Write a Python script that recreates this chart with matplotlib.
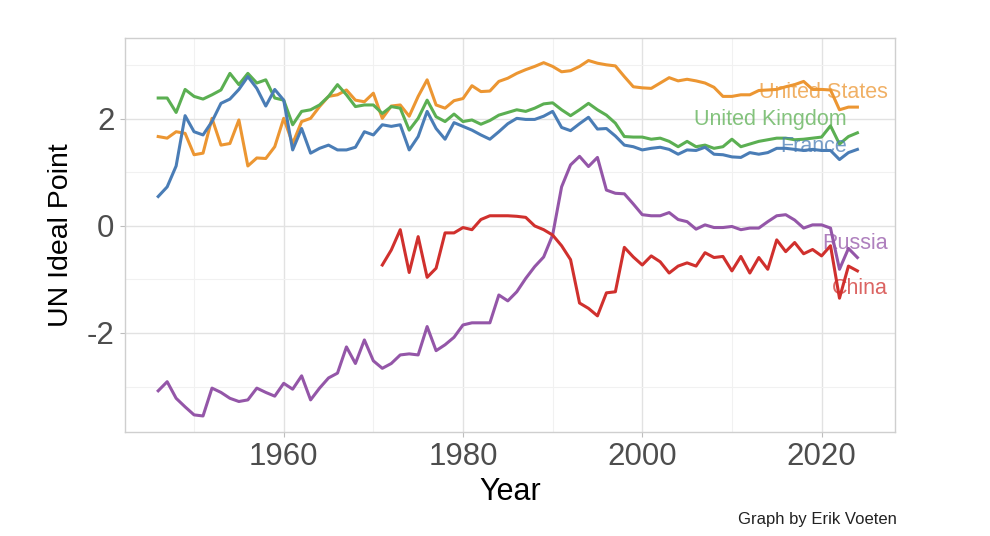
import matplotlib
matplotlib.use("Agg")

import matplotlib.pyplot as plt
import numpy as np

# ------------------------------------------------------------
# DATA
# ------------------------------------------------------------
years = list(range(1946, 2025))
china_years = list(range(1971, 2025))

united_states = [
    1.67, 1.64, 1.76, 1.73, 1.33, 1.36, 2.01, 1.51, 1.54, 1.98,
    1.12, 1.27, 1.26, 1.48, 2.01, 1.54, 1.95, 2.01, 2.23, 2.42,
    2.45, 2.54, 2.35, 2.32, 2.48, 2.01, 2.24, 2.26, 2.05, 2.42,
    2.73, 2.26, 2.20, 2.34, 2.38, 2.62, 2.51, 2.52, 2.70, 2.76,
    2.85, 2.92, 2.98, 3.05, 2.98, 2.88, 2.90, 2.98, 3.09, 3.04,
    3.01, 2.99, 2.79, 2.60, 2.58, 2.57, 2.67, 2.77, 2.71, 2.74,
    2.71, 2.67, 2.59, 2.42, 2.42, 2.45, 2.45, 2.53, 2.54, 2.55,
    2.60, 2.64, 2.70, 2.55, 2.55, 2.54, 2.17, 2.22, 2.22,
]
united_kingdom = [
    2.39, 2.39, 2.12, 2.55, 2.42, 2.37, 2.45, 2.54, 2.85, 2.64,
    2.85, 2.67, 2.73, 2.39, 2.35, 1.89, 2.14, 2.17, 2.26, 2.42,
    2.64, 2.45, 2.23, 2.26, 2.26, 2.10, 2.23, 2.20, 1.79, 2.01,
    2.35, 2.04, 1.95, 2.09, 1.95, 1.98, 1.90, 1.97, 2.07, 2.12,
    2.17, 2.14, 2.20, 2.28, 2.30, 2.17, 2.06, 2.17, 2.29, 2.17,
    2.07, 1.92, 1.67, 1.66, 1.66, 1.62, 1.64, 1.58, 1.48, 1.58,
    1.48, 1.51, 1.45, 1.48, 1.62, 1.48, 1.53, 1.58, 1.61, 1.64,
    1.64, 1.61, 1.62, 1.64, 1.66, 1.87, 1.53, 1.67, 1.74,
]
france = [
    0.55, 0.73, 1.12, 2.06, 1.76, 1.70, 1.95, 2.29, 2.37, 2.55,
    2.79, 2.57, 2.24, 2.55, 2.35, 1.42, 1.82, 1.36, 1.45, 1.51,
    1.42, 1.42, 1.47, 1.76, 1.70, 1.89, 1.86, 1.89, 1.42, 1.67,
    2.14, 1.82, 1.62, 1.93, 1.86, 1.79, 1.70, 1.62, 1.76, 1.91,
    2.01, 1.99, 1.99, 2.05, 2.14, 1.84, 1.78, 1.91, 2.03, 1.81,
    1.82, 1.68, 1.51, 1.48, 1.42, 1.45, 1.47, 1.43, 1.34, 1.42,
    1.41, 1.47, 1.34, 1.33, 1.29, 1.28, 1.37, 1.34, 1.37, 1.45,
    1.45, 1.43, 1.41, 1.43, 1.41, 1.41, 1.24, 1.37, 1.43,
]
russia = [
    -3.08, -2.91, -3.22, -3.38, -3.53, -3.55, -3.03, -3.11, -3.22, -3.28,
    -3.25, -3.03, -3.11, -3.18, -2.94, -3.05, -2.80, -3.25, -3.03, -2.84,
    -2.75, -2.26, -2.57, -2.13, -2.52, -2.66, -2.57, -2.41, -2.39, -2.41,
    -1.88, -2.33, -2.22, -2.08, -1.85, -1.81, -1.81, -1.81, -1.29, -1.40,
    -1.23, -0.98, -0.76, -0.58, -0.17, 0.73, 1.14, 1.30, 1.11, 1.28,
    0.67, 0.61, 0.60, 0.41, 0.21, 0.19, 0.19, 0.25, 0.12, 0.08,
    -0.06, 0.02, -0.03, -0.03, -0.01, -0.07, -0.04, -0.04, 0.08, 0.19,
    0.21, 0.11, -0.04, 0.02, 0.02, -0.04, -0.81, -0.42, -0.59,
]
china = [
    -0.73, -0.45, -0.07, -0.87, -0.20, -0.96, -0.79, -0.13, -0.13, -0.03,
    -0.07, 0.12, 0.19, 0.19, 0.19, 0.18, 0.16, 0.00, -0.07, -0.17,
    -0.37, -0.63, -1.44, -1.54, -1.68, -1.25, -1.23, -0.40, -0.58, -0.73,
    -0.56, -0.67, -0.88, -0.75, -0.69, -0.75, -0.50, -0.59, -0.57, -0.84,
    -0.57, -0.88, -0.59, -0.81, -0.26, -0.48, -0.31, -0.52, -0.44, -0.56,
    -0.37, -1.35, -0.75, -0.84,
]

names = ["United States", "United Kingdom", "France", "Russia", "China"]
colors = ["#EC9632", "#5BAF52", "#4A7DB6", "#9456A8", "#D0302D"]

# label anchors (right edge x, centre y) in data units
label_x = [2027.4, 2022.8, 2022.8, 2027.4, 2027.4]
label_y = [2.49, 1.98, 1.48, -0.32, -1.16]

# ------------------------------------------------------------
# PLOT
# ------------------------------------------------------------
plt.rcParams['font.family'] = ['Liberation Sans', 'DejaVu Sans']
plt.rcParams['axes.unicode_minus'] = False

fig = plt.figure(figsize=(9.9, 5.36), dpi=100)
ax = fig.add_axes([0.1263, 0.194, 0.7778, 0.735])

series = [
    (years, united_states),
    (years, united_kingdom),
    (years, france),
    (years, russia),
    (china_years, china),
]
for (xs, ys), col in zip(series, colors):
    ax.plot(xs, ys, color=col, lw=2.2, solid_joinstyle="round")

for name, col, lx, ly in zip(names, colors, label_x, label_y):
    ax.text(lx, ly, name, color=col, alpha=0.75, fontsize=15.5,
            ha="right", va="center")

ax.set_xlim(1942.3, 2028.2)
ax.set_ylim(-3.85, 3.51)
ax.set_xticks([1960, 1980, 2000, 2020])
ax.set_yticks([-2, 0, 2])
ax.set_xticks([1950, 1970, 1990, 2010], minor=True)
ax.set_yticks([-3, -1, 1, 3], minor=True)

ax.grid(True, which="major", color="#e2e2e2", lw=1.0)
ax.grid(True, which="minor", color="#f1f1f1", lw=0.8)
ax.set_axisbelow(True)

for sp in ax.spines.values():
    sp.set_color("#cfcfcf")
    sp.set_linewidth(1.0)

ax.tick_params(which="major", length=3.5, width=0.8, color="#bdbdbd",
               labelsize=22.5, labelcolor="#4d4d4d", pad=4)
ax.tick_params(which="minor", length=0)

ax.set_xlabel("Year", fontsize=22, color="black")
ax.set_ylabel("UN Ideal Point", fontsize=20.5, color="black")
ax.xaxis.set_label_coords(0.50, -0.115)
ax.yaxis.set_label_coords(-0.066, 0.5)

fig.text(0.906, 0.031, "Graph by Erik Voeten", fontsize=12,
         color="#222222", ha="right", va="center")

fig.savefig("out.png", dpi=100)
